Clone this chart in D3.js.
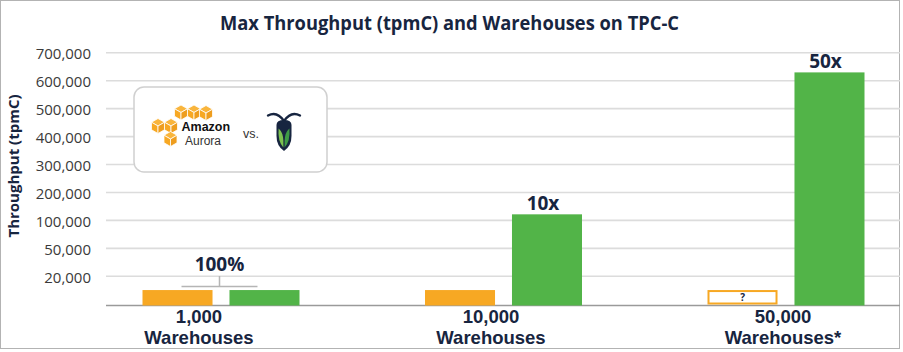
<!DOCTYPE html>
<html>
<head>
<meta charset="utf-8">
<script src="https://cdn.jsdelivr.net/npm/d3@7"></script>
<style>
  body { margin: 0; background: #fff; }
  svg { display: block; font-family: "Open Sans", sans-serif; }
</style>
</head>
<body>
<div id="chart"></div>
<script>
// data
var categories = ['1,000', '10,000', '50,000']
var categorySubs = ['Warehouses', 'Warehouses', 'Warehouses*']
var seriesKeys = ['aurora', 'cockroach']
var auroraValues = [10400, 10400, 10400]
var auroraKnown = [true, true, false]
var cockroachValues = [10400, 120000, 628000]
var callouts = ['100%', '10x', '50x']
var yTicks = [20000, 50000, 100000, 200000, 300000, 400000, 500000, 600000, 700000]

var width = 903
var height = 352
var navy = '#172540'
var orange = '#F7A823'
var green = '#52B448'

var plotLeft = 106
var plotRight = 900
var baseY = 305.5
var firstTickY = 275.8
var tickStep = 27.94

var svg = d3.select('#chart').append('svg')
  .attr('width', width)
  .attr('height', height)

svg.append('rect')
  .attr('x', 0.5).attr('y', 0.5)
  .attr('width', 899).attr('height', 348)
  .attr('fill', '#fff')
  .attr('stroke', '#b3b3b3')

// y is piecewise: ticks are evenly spaced even though values are not
var y = d3.scaleLinear()
  .domain([0].concat(yTicks))
  .range([baseY].concat(yTicks.map(function (d, i) { return firstTickY - i * tickStep })))

var x = d3.scalePoint().domain(categories).range([221, 786])
var xSub = d3.scaleBand().domain(seriesKeys).range([-78.5, 78.5]).paddingInner(0.195)
var labelX = d3.scalePoint().domain(categories).range([199, 783])

// title
svg.append('text')
  .attr('x', 449.5)
  .attr('y', 30)
  .attr('text-anchor', 'middle')
  .attr('font-size', 19.5)
  .attr('font-weight', 700)
  .attr('fill', navy)
  .attr('textLength', 459)
  .attr('lengthAdjust', 'spacingAndGlyphs')
  .text('Max Throughput (tpmC) and Warehouses on TPC-C')

// y axis with gridlines
var gYaxis = svg.append('g')
  .attr('class', 'y axis')
  .attr('transform', 'translate(' + plotLeft + ',0)')
  .call(d3.axisLeft(y)
    .tickValues(yTicks)
    .tickSize(-(plotRight - plotLeft))
    .tickPadding(15)
    .tickFormat(d3.format(',')))

gYaxis.select('.domain').remove()
gYaxis.selectAll('line')
  .attr('stroke', '#dcdcdc')
  .attr('stroke-width', 1.6)
gYaxis.selectAll('text')
  .attr('font-size', 15)
  .attr('fill', '#3a3a3a')
  .attr('font-family', '"Open Sans", sans-serif')
  .attr('dy', '0.42em')

svg.append('text')
  .attr('transform', 'translate(19,166) rotate(-90)')
  .attr('text-anchor', 'middle')
  .attr('font-size', 15)
  .attr('font-weight', 700)
  .attr('fill', navy)
  .text('Throughput (tpmC)')

// baseline
svg.append('line')
  .attr('x1', plotLeft).attr('x2', plotRight)
  .attr('y1', y(0)).attr('y2', y(0))
  .attr('stroke', '#9a9a9a')
  .attr('stroke-width', 1.6)

// bars
var groups = svg.append('g').attr('class', 'chart')
  .selectAll('g')
  .data(categories)
  .enter().append('g')
  .attr('transform', function (d) { return 'translate(' + x(d) + ',0)' })

groups.append('rect')
  .attr('class', 'aurora')
  .attr('x', function (d, i) { return xSub('aurora') + (auroraKnown[i] ? 0 : 1) })
  .attr('y', function (d, i) { return y(auroraValues[i]) + (auroraKnown[i] ? 0 : 1) })
  .attr('width', function (d, i) { return xSub.bandwidth() - (auroraKnown[i] ? 0 : 2) })
  .attr('height', function (d, i) { return y(0) - y(auroraValues[i]) - (auroraKnown[i] ? 0 : 3) })
  .attr('fill', function (d, i) { return auroraKnown[i] ? orange : '#fff' })
  .attr('stroke', function (d, i) { return auroraKnown[i] ? 'none' : orange })
  .attr('stroke-width', 2)

groups.filter(function (d, i) { return !auroraKnown[i] })
  .append('text')
  .attr('x', xSub('aurora') + xSub.bandwidth() / 2)
  .attr('y', function (d) { return y(auroraValues[categories.indexOf(d)] / 2) + 3.5 })
  .attr('text-anchor', 'middle')
  .attr('font-size', 10)
  .attr('font-weight', 700)
  .attr('fill', navy)
  .text('?')

groups.append('rect')
  .attr('class', 'cockroach')
  .attr('x', xSub('cockroach'))
  .attr('y', function (d, i) { return y(cockroachValues[i]) })
  .attr('width', xSub.bandwidth())
  .attr('height', function (d, i) { return y(0) - y(cockroachValues[i]) })
  .attr('fill', green)

// callouts: first one spans both bars with a bracket
groups.each(function (d, i) {
  var g = d3.select(this)
  var cA = xSub('aurora') + xSub.bandwidth() / 2
  var cB = xSub('cockroach') + xSub.bandwidth() / 2
  var top = y(Math.max(auroraValues[i], cockroachValues[i]))
  if (i === 0) {
    var by = top - 3.5
    g.append('path')
      .attr('d', 'M' + (cA + 4) + ',' + by + 'H' + (cB - 7) + 'M' + ((cA + cB) / 2 - 1.5) + ',' + by + 'V' + (by - 10.5))
      .attr('fill', 'none')
      .attr('stroke', '#b5b5b5')
      .attr('stroke-width', 1.5)
    g.append('text')
      .attr('x', (cA + cB) / 2 - 1.5)
      .attr('y', by - 16)
      .attr('text-anchor', 'middle')
      .attr('font-size', 19)
      .attr('font-weight', 700)
      .attr('fill', navy)
      .text(callouts[i])
  } else {
    g.append('text')
      .attr('x', cB - 4)
      .attr('y', y(cockroachValues[i]) - 4)
      .attr('text-anchor', 'middle')
      .attr('font-size', 19)
      .attr('font-weight', 700)
      .attr('fill', navy)
      .text(callouts[i])
  }
})

// category labels, two lines each
var gXaxis = svg.append('g').attr('class', 'x axis')
  .attr('font-family', '"Liberation Sans", Arial, sans-serif')
  .attr('font-size', 18.5)
  .attr('font-weight', 700)
  .attr('fill', navy)
  .attr('text-anchor', 'middle')

gXaxis.selectAll('text.num')
  .data(categories)
  .enter().append('text')
  .attr('class', 'num')
  .attr('x', function (d) { return labelX(d) })
  .attr('y', 322.5)
  .text(function (d) { return d })

gXaxis.selectAll('text.sub')
  .data(categories)
  .enter().append('text')
  .attr('class', 'sub')
  .attr('x', function (d) { return labelX(d) })
  .attr('y', 344)
  .text(function (d, i) { return categorySubs[i] })

// legend box with logos
var legend = svg.append('g').attr('class', 'legend')
legend.append('rect')
  .attr('x', 134).attr('y', 87)
  .attr('width', 193).attr('height', 85)
  .attr('rx', 10)
  .attr('fill', '#fff')
  .attr('stroke', '#d0d0d0')
  .attr('stroke-width', 1.5)

function cube(g, cx, cy, s) {
  var w = s * 0.87
  var pts = function (a) { return a.map(function (p) { return p.join(',') }).join(' ') }
  g.append('polygon').attr('points', pts([[cx, cy - s], [cx + w, cy - s / 2], [cx, cy], [cx - w, cy - s / 2]]))
    .attr('fill', '#F9B53C').attr('stroke', '#fff').attr('stroke-width', 0.8)
  g.append('polygon').attr('points', pts([[cx - w, cy - s / 2], [cx, cy], [cx, cy + s], [cx - w, cy + s / 2]]))
    .attr('fill', orange).attr('stroke', '#fff').attr('stroke-width', 0.8)
  g.append('polygon').attr('points', pts([[cx + w, cy - s / 2], [cx, cy], [cx, cy + s], [cx + w, cy + s / 2]]))
    .attr('fill', '#EE9D1E').attr('stroke', '#fff').attr('stroke-width', 0.8)
}
var cubes = legend.append('g')
;[[181, 112.5], [194, 112.5], [206, 113], [158, 126], [171, 126], [170.5, 139]].forEach(function (p) {
  cube(cubes, p[0], p[1], 7.5)
})

legend.append('text')
  .attr('x', 181.5).attr('y', 131)
  .attr('font-family', '"Liberation Sans", Arial, sans-serif')
  .attr('font-size', 12.5)
  .attr('font-weight', 700)
  .attr('fill', '#111')
  .text('Amazon')
legend.append('text')
  .attr('x', 185).attr('y', 145)
  .attr('font-family', '"Liberation Sans", Arial, sans-serif')
  .attr('font-size', 12)
  .attr('fill', '#333')
  .text('Aurora')
legend.append('text')
  .attr('x', 243).attr('y', 138)
  .attr('font-family', '"Liberation Sans", Arial, sans-serif')
  .attr('font-size', 12.5)
  .attr('fill', '#333')
  .text('vs.')

var roach = legend.append('g')
roach.append('path')
  .attr('d', 'M268,115.5 Q277,110.5 284,121 Q291,110.5 300,115.5')
  .attr('fill', 'none')
  .attr('stroke', navy)
  .attr('stroke-width', 2.4)
  .attr('stroke-linecap', 'round')
roach.append('path')
  .attr('d', 'M276.5,125 Q276.5,120 284,120 Q291.5,120 291.5,125 L291.5,136 Q291.5,146 284,151 Q276.5,146 276.5,136 Z')
  .attr('fill', navy)
roach.append('path')
  .attr('d', 'M283.4,147.5 Q277.5,141 278.6,128.5 Q283.2,132.5 283.4,141 Z')
  .attr('fill', '#7CC24F')
roach.append('path')
  .attr('d', 'M284.6,147.5 Q290.5,141 289.4,128.5 Q284.8,132.5 284.6,141 Z')
  .attr('fill', '#3E9B46')
</script>
</body>
</html>
